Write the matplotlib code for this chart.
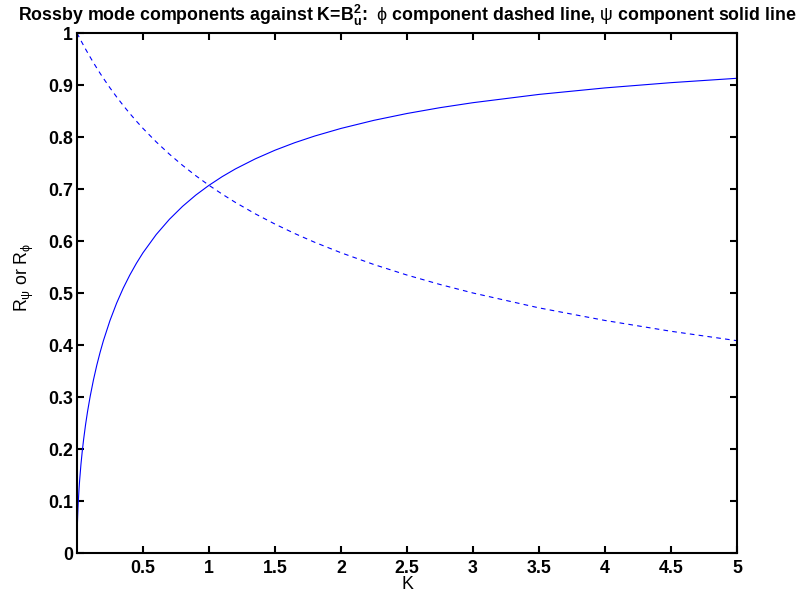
# -*- coding: utf-8 -*-
"""
Rossby mode components R_psi and R_phi plotted against K
"""

import matplotlib
matplotlib.use("Agg")
import matplotlib.pyplot as plt

plt.rcParams['font.family'] = ['Liberation Sans', 'DejaVu Sans']
plt.rcParams['mathtext.fontset'] = 'custom'
plt.rcParams['mathtext.rm'] = 'Liberation Sans'
plt.rcParams['mathtext.it'] = 'Liberation Sans'
plt.rcParams['mathtext.bf'] = 'Liberation Sans:bold'

# K values and the two components
K = [0, 0.0001, 0.0005, 0.001, 0.002, 0.0035, 0.005, 0.0075, 0.01, 0.015,
     0.02, 0.03, 0.04, 0.05, 0.065, 0.08, 0.1, 0.125, 0.15, 0.175, 0.2,
     0.25, 0.3, 0.35, 0.4, 0.45, 0.5, 0.6, 0.7, 0.8, 0.9, 1.0, 1.1, 1.2,
     1.35, 1.5, 1.65, 1.8, 2.0, 2.25, 2.5, 2.75, 3.0, 3.5, 4.0, 4.5, 5.0]
R_psi = [0.0, 0.010, 0.0224, 0.0316, 0.0447, 0.0591, 0.0705, 0.0863, 0.0995,
         0.1216, 0.1400, 0.1707, 0.1961, 0.2182, 0.2471, 0.2722, 0.3015,
         0.3333, 0.3612, 0.3859, 0.4083, 0.4472, 0.4804, 0.5092, 0.5345,
         0.5571, 0.5774, 0.6124, 0.6417, 0.6667, 0.6883, 0.7071, 0.7238,
         0.7386, 0.7579, 0.7746, 0.7891, 0.8018, 0.8165, 0.8321, 0.8452,
         0.8564, 0.8660, 0.8819, 0.8944, 0.9045, 0.9129]
R_phi = [1.0, 1.0, 0.9998, 0.9995, 0.9990, 0.9983, 0.9975, 0.9963, 0.9950,
         0.9926, 0.9902, 0.9853, 0.9806, 0.9759, 0.9690, 0.9623, 0.9535,
         0.9428, 0.9325, 0.9225, 0.9129, 0.8944, 0.8771, 0.8607, 0.8452,
         0.8305, 0.8165, 0.7906, 0.7670, 0.7454, 0.7255, 0.7071, 0.6901,
         0.6742, 0.6523, 0.6325, 0.6143, 0.5976, 0.5774, 0.5547, 0.5345,
         0.5164, 0.5000, 0.4714, 0.4472, 0.4264, 0.4083]

xticks = [0.5, 1, 1.5, 2, 2.5, 3, 3.5, 4, 4.5, 5]
xticklabels = ['0.5', '1', '1.5', '2', '2.5', '3', '3.5', '4', '4.5', '5']
yticks = [0, 0.1, 0.2, 0.3, 0.4, 0.5, 0.6, 0.7, 0.8, 0.9, 1]
yticklabels = ['0', '0.1', '0.2', '0.3', '0.4', '0.5', '0.6', '0.7', '0.8', '0.9', '1']

fs = 12.8

fig = plt.figure(figsize=(7.96, 6.04), dpi=100)
ax = fig.add_axes([77/796., 1-553/604., 660/796., 520/604.])

ax.plot(K, R_phi, color='blue', lw=0.8, linestyle=(0, (4.2, 3.8)))
ax.plot(K, R_psi, color='blue', lw=0.8)

ax.set_xlim(0, 5)
ax.set_ylim(0, 1)
ax.set_xticks(xticks)
ax.set_xticklabels(xticklabels)
ax.set_yticks(yticks)
ax.set_yticklabels(yticklabels)

for s in ax.spines.values():
    s.set_linewidth(1.5)
ax.tick_params(direction='in', length=5, width=1.5, top=True, right=True,
               labelsize=fs)
ax.tick_params(axis='x', pad=5)
ax.tick_params(axis='y', pad=3)
for lab in ax.get_xticklabels() + ax.get_yticklabels():
    lab.set_fontweight('bold')

ax.set_xlabel('K', fontsize=fs, labelpad=-1)
ax.set_ylabel(r'R$_{\psi}$ or R$_{\phi}$', fontsize=fs)
ax.yaxis.set_label_coords(-0.062, 0.53)
ax.set_title(r'Rossby mode components against K=B$_{\mathbf{u}}^{\mathbf{2}}$:  '
             r'$\phi$ component dashed line, $\psi$ component solid line',
             fontsize=fs, fontweight='bold', pad=9)

plt.savefig('out.png', dpi=100)
